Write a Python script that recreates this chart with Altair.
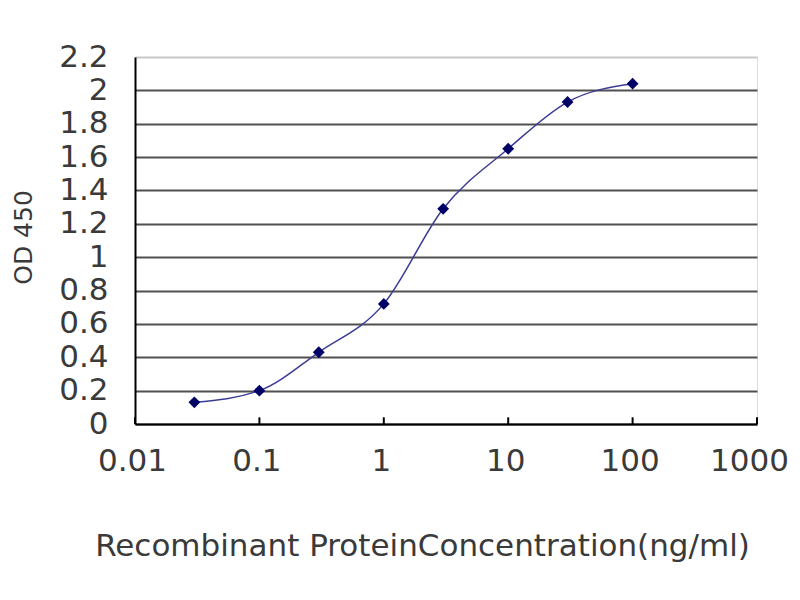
import altair as alt
import pandas as pd

conc = [0.03, 0.1, 0.3, 1, 3, 10, 30, 100]
od = [0.13, 0.20, 0.43, 0.72, 1.29, 1.65, 1.93, 2.04]
x_ticks = [0.01, 0.1, 1, 10, 100, 1000]
y_ticks = [0, 0.2, 0.4, 0.6, 0.8, 1.0, 1.2, 1.4, 1.6, 1.8, 2.0, 2.2]

df = pd.DataFrame({"conc": conc, "od": od})
ticks_df = pd.DataFrame({"x": x_ticks, "y0": [0.0] * len(x_ticks), "y1": [0.04] * len(x_ticks)})

xscale = alt.Scale(type="log", domain=[0.01, 1000])
yscale = alt.Scale(domain=[0, 2.2], nice=False)

FONT = "DejaVu Sans"

xaxis = alt.Axis(
    values=x_ticks, format="~g", grid=False, ticks=False,
    domainColor="#000000", domainWidth=2,
    labelFont=FONT, labelFontSize=31, labelColor="#3a3a3a", labelPadding=37,
    labelOffset={"condition": {"test": "datum.value >= 1000", "value": -8}, "value": -3},
    labelBaseline="middle", labelFlush=False, labelOverlap=False,
    title="Recombinant ProteinConcentration(ng/ml)",
    titleFont=FONT, titleFontSize=31, titleFontWeight="normal", titleColor="#3a3a3a",
    titleX=287, titleY=122, titleBaseline="middle", titleAlign="center",
)
yaxis = alt.Axis(
    values=y_ticks, tickCount=12, format="~g", ticks=False,
    grid=True, gridColor={"condition": {"test": "datum.value >= 2.1", "value": "#c8c8c8"}, "value": "#505050"},
    gridWidth=2,
    domainColor="#000000", domainWidth=2,
    labelFont=FONT, labelFontSize=31, labelColor="#3a3a3a", labelPadding=27,
    labelBaseline="middle", labelFlush=False, labelOverlap=False,
    title="OD 450", titleFont=FONT, titleFontSize=25, titleFontWeight="normal", titleColor="#3a3a3a",
    titleAngle=270, titleX=-112, titleY=180, titleBaseline="middle", titleAlign="center",
)

base = alt.Chart(df)
line = base.mark_line(interpolate="monotone", color="#3c3c96", strokeWidth=1.5).encode(
    x=alt.X("conc:Q", scale=xscale, axis=xaxis),
    y=alt.Y("od:Q", scale=yscale, axis=yaxis),
)
pts = base.mark_point(shape="diamond", filled=True, color="#000066", size=140, opacity=1).encode(
    x=alt.X("conc:Q", scale=xscale, axis=xaxis),
    y=alt.Y("od:Q", scale=yscale, axis=yaxis),
)
tks = alt.Chart(ticks_df).mark_rule(color="#000000", strokeWidth=2).encode(
    x=alt.X("x:Q", scale=xscale, axis=xaxis),
    y=alt.Y("y0:Q", scale=yscale, axis=yaxis),
    y2="y1:Q",
)

chart = alt.layer(line, tks, pts).properties(
    width=622, height=367,
    autosize=alt.AutoSizeParams(type="none"),
    padding={"left": 127, "top": 49, "right": 35, "bottom": 170},
).configure_view(stroke="#a0a0a0", strokeWidth=2).configure(background="white")

chart.save("out.html", embed_options={"renderer": "svg", "actions": False})
